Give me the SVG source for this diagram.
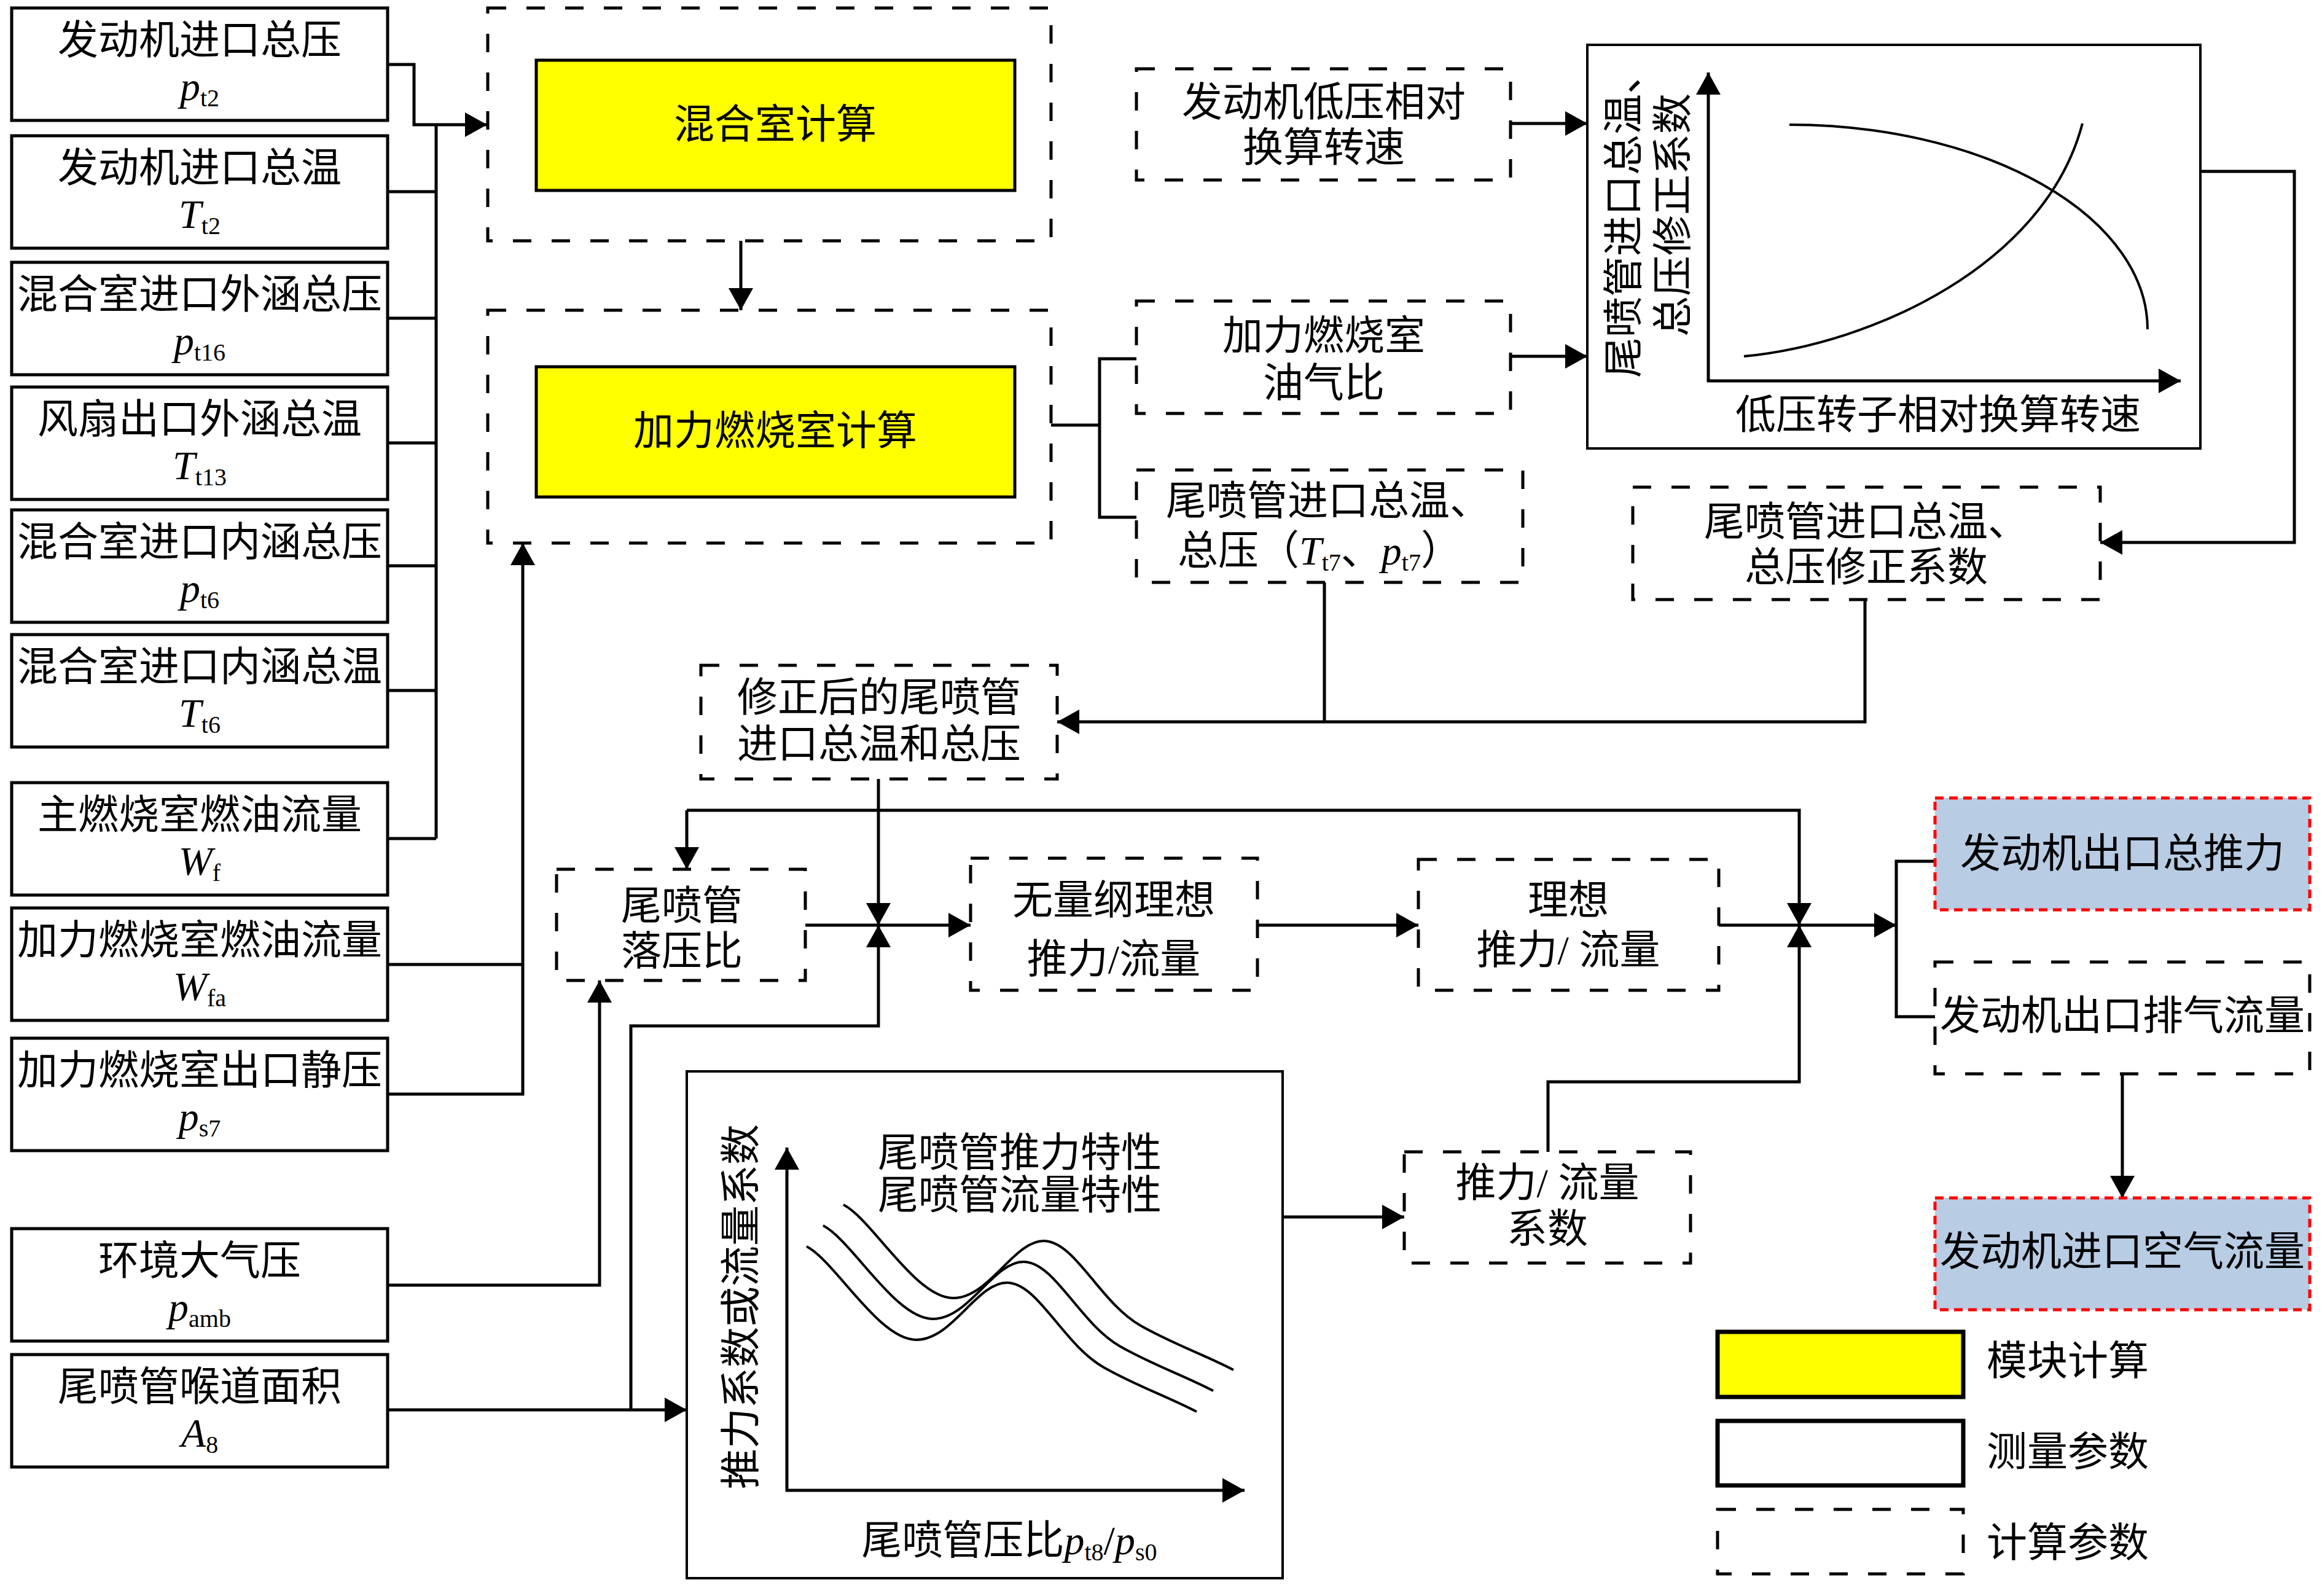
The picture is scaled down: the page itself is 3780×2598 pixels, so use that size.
<svg xmlns="http://www.w3.org/2000/svg" width="3780" height="2598" viewBox="0 0 3780 2598">
<style>
.t{font-family:"Liberation Serif","Noto Sans CJK SC",serif;font-size:66px;fill:#000}
.c{text-anchor:middle}
.i{font-style:italic}
.s{font-size:40px;font-style:normal}
.box{fill:#fff;stroke:#000;stroke-width:5}
.dash{fill:none;stroke:#000;stroke-width:5;stroke-dasharray:30 33}
.yel{fill:#FFFF00;stroke:#000;stroke-width:5}
.red{fill:#B8CCE4;stroke:#FF0000;stroke-width:5;stroke-dasharray:14 9}
.ln{fill:none;stroke:#000;stroke-width:5}
.cv{fill:none;stroke:#000;stroke-width:4}
.arr{marker-end:url(#ah)}
</style>
<defs>
<marker id="ah" markerUnits="userSpaceOnUse" viewBox="0 0 36 40" refX="36" refY="20" markerWidth="36" markerHeight="40" orient="auto">
<path d="M0,0 L36,20 L0,40 Z" fill="#000"/>
</marker>
<path id="wave" d="M1373,1961 C1420,1985 1490,2113 1552,2113 C1610,2113 1650,2020 1699,2020 C1750,2020 1790,2120 1857,2158 C1910,2188 1960,2205 2008,2230"/>
</defs>
<rect width="3780" height="2598" fill="#fff"/>

<g id="connectors">
<polyline class="ln arr" points="631,105 674,105 674,203 793,203"/>
<line class="ln" x1="710" y1="203" x2="710" y2="1365"/>
<line class="ln" x1="631" y1="312" x2="710" y2="312"/>
<line class="ln" x1="631" y1="518" x2="710" y2="518"/>
<line class="ln" x1="631" y1="721" x2="710" y2="721"/>
<line class="ln" x1="631" y1="921" x2="710" y2="921"/>
<line class="ln" x1="631" y1="1124" x2="710" y2="1124"/>
<line class="ln" x1="631" y1="1365" x2="710" y2="1365"/>
<line class="ln" x1="631" y1="1570" x2="851" y2="1570"/>
<polyline class="ln arr" points="631,1781 851,1781 851,884"/>
<line class="ln arr" x1="1206" y1="392" x2="1206" y2="505"/>
<line class="ln" x1="1711" y1="692" x2="1790" y2="692"/>
<polyline class="ln" points="1850,584 1790,584 1790,842 1850,842"/>
<line class="ln arr" x1="2459" y1="201" x2="2584" y2="201"/>
<line class="ln arr" x1="2459" y1="580" x2="2584" y2="580"/>
<polyline class="ln arr" points="3582,279 3735,279 3735,883 3419,883"/>
<polyline class="ln arr" points="3036,976 3036,1175 1721,1175"/>
<line class="ln" x1="2156" y1="948" x2="2156" y2="1175"/>
<line class="ln arr" x1="1430" y1="1268" x2="1430" y2="1506"/>
<line class="ln arr" x1="1311" y1="1506" x2="1580" y2="1506"/>
<line class="ln arr" x1="631" y1="2295" x2="1118" y2="2295"/>
<polyline class="ln arr" points="1027,2295 1027,1670 1430,1670 1430,1506"/>
<polyline class="ln arr" points="631,2092 976,2092 976,1596"/>
<polyline class="ln arr" points="1118,1319 1118,1415"/>
<polyline class="ln arr" points="1118,1319 2929,1319 2929,1506"/>
<line class="ln arr" x1="2047" y1="1506" x2="2309" y2="1506"/>
<line class="ln arr" x1="2798" y1="1506" x2="3087" y2="1506"/>
<polyline class="ln" points="3150,1402 3087,1402 3087,1655 3150,1655"/>
<polyline class="ln arr" points="2520,1875 2520,1761 2929,1761 2929,1506"/>
<line class="ln arr" x1="2088" y1="1981" x2="2286" y2="1981"/>
<line class="ln arr" x1="3455" y1="1748" x2="3455" y2="1950"/>
</g>

<g id="in-pt2"><rect class="box" x="19" y="13" width="612" height="183"/>
<text class="t c" x="325" y="88">发动机进口总压</text>
<text class="t c" x="325" y="163"><tspan class="i">p</tspan><tspan class="s" dy="10">t2</tspan></text></g>
<g id="in-Tt2"><rect class="box" x="19" y="221" width="612" height="183"/>
<text class="t c" x="325" y="296">发动机进口总温</text>
<text class="t c" x="325" y="371"><tspan class="i">T</tspan><tspan class="s" dy="10">t2</tspan></text></g>
<g id="in-pt16"><rect class="box" x="19" y="427" width="612" height="183"/>
<text class="t c" x="325" y="502">混合室进口外涵总压</text>
<text class="t c" x="325" y="577"><tspan class="i">p</tspan><tspan class="s" dy="10">t16</tspan></text></g>
<g id="in-Tt13"><rect class="box" x="19" y="630" width="612" height="183"/>
<text class="t c" x="325" y="705">风扇出口外涵总温</text>
<text class="t c" x="325" y="780"><tspan class="i">T</tspan><tspan class="s" dy="10">t13</tspan></text></g>
<g id="in-pt6"><rect class="box" x="19" y="830" width="612" height="183"/>
<text class="t c" x="325" y="905">混合室进口内涵总压</text>
<text class="t c" x="325" y="980"><tspan class="i">p</tspan><tspan class="s" dy="10">t6</tspan></text></g>
<g id="in-Tt6"><rect class="box" x="19" y="1033" width="612" height="183"/>
<text class="t c" x="325" y="1108">混合室进口内涵总温</text>
<text class="t c" x="325" y="1183"><tspan class="i">T</tspan><tspan class="s" dy="10">t6</tspan></text></g>
<g id="in-Wf"><rect class="box" x="19" y="1274" width="612" height="183"/>
<text class="t c" x="325" y="1349">主燃烧室燃油流量</text>
<text class="t c" x="325" y="1424"><tspan class="i">W</tspan><tspan class="s" dy="10">f</tspan></text></g>
<g id="in-Wfa"><rect class="box" x="19" y="1478" width="612" height="183"/>
<text class="t c" x="325" y="1553">加力燃烧室燃油流量</text>
<text class="t c" x="325" y="1628"><tspan class="i">W</tspan><tspan class="s" dy="10">fa</tspan></text></g>
<g id="in-ps7"><rect class="box" x="19" y="1690" width="612" height="183"/>
<text class="t c" x="325" y="1765">加力燃烧室出口静压</text>
<text class="t c" x="325" y="1840"><tspan class="i">p</tspan><tspan class="s" dy="10">s7</tspan></text></g>
<g id="in-pamb"><rect class="box" x="19" y="2000" width="612" height="183"/>
<text class="t c" x="325" y="2075">环境大气压</text>
<text class="t c" x="325" y="2150"><tspan class="i">p</tspan><tspan class="s" dy="10">amb</tspan></text></g>
<g id="in-A8"><rect class="box" x="19" y="2205" width="612" height="183"/>
<text class="t c" x="325" y="2280">尾喷管喉道面积</text>
<text class="t c" x="325" y="2355"><tspan class="i">A</tspan><tspan class="s" dy="10">8</tspan></text></g>

<g id="mix"><rect class="dash" x="794" y="13" width="917" height="379"/>
<rect class="yel" x="873" y="98" width="779" height="212"/>
<text class="t c" x="1262" y="225">混合室计算</text></g>
<g id="ab"><rect class="dash" x="794" y="505" width="917" height="379"/>
<rect class="yel" x="873" y="597" width="779" height="212"/>
<text class="t c" x="1262" y="724">加力燃烧室计算</text></g>

<g id="lp-speed"><rect class="dash" x="1850" y="112" width="609" height="181"/>
<text class="t c" x="2155" y="189">发动机低压相对</text>
<text class="t c" x="2155" y="263">换算转速</text></g>
<g id="far"><rect class="dash" x="1850" y="490" width="609" height="183"/>
<text class="t c" x="2155" y="569">加力燃烧室</text>
<text class="t c" x="2155" y="646">油气比</text></g>
<g id="t7p7"><rect class="dash" x="1850" y="765" width="629" height="183"/>
<text class="t c" x="2162" y="838">尾喷管进口总温、</text>
<text class="t c" x="2148" y="919">总压（<tspan class="i">T</tspan><tspan class="s" dy="10">t7</tspan><tspan dy="-10">、</tspan><tspan class="i">p</tspan><tspan class="s" dy="10">t7</tspan><tspan dy="-10">）</tspan></text></g>

<g id="chart1"><rect x="2584" y="73" width="998" height="657" fill="#fff" stroke="#000" stroke-width="4"/>
<line class="ln arr" x1="2781" y1="622" x2="2781" y2="118"/>
<line class="ln arr" x1="2779" y1="620" x2="3550" y2="620"/>
<path class="cv" d="M2913,203 A583,333 0 0 1 3496,536"/>
<path class="cv" d="M2839,580 C3050,560 3330,430 3390,201"/>
<text class="t" transform="translate(2666,615) rotate(-90)">尾喷管进口总温、</text>
<text class="t" transform="translate(2746,548) rotate(-90)">总压修正系数</text>
<text class="t c" x="3155" y="698">低压转子相对换算转速</text></g>

<g id="corr"><rect class="dash" x="2658" y="793" width="761" height="183"/>
<text class="t c" x="3038" y="872">尾喷管进口总温、</text>
<text class="t c" x="3038" y="946">总压修正系数</text></g>
<g id="corrected"><rect class="dash" x="1141" y="1083" width="580" height="185"/>
<text class="t c" x="1431" y="1158">修正后的尾喷管</text>
<text class="t c" x="1431" y="1234">进口总温和总压</text></g>
<g id="npr"><rect class="dash" x="906" y="1415" width="405" height="181"/>
<text class="t c" x="1110" y="1497">尾喷管</text>
<text class="t c" x="1110" y="1571">落压比</text></g>
<g id="dimless"><rect class="dash" x="1580" y="1397" width="467" height="215"/>
<text class="t c" x="1813" y="1488">无量纲理想</text>
<text class="t c" x="1813" y="1584">推力/流量</text></g>
<g id="ideal"><rect class="dash" x="2309" y="1399" width="489" height="213"/>
<text class="t c" x="2553" y="1488">理想</text>
<text class="t c" x="2553" y="1569">推力/ 流量</text></g>
<g id="coef"><rect class="dash" x="2286" y="1875" width="466" height="181"/>
<text class="t c" x="2519" y="1948">推力/ 流量</text>
<text class="t c" x="2519" y="2023">系数</text></g>

<g id="chart2"><rect x="1118" y="1744" width="970" height="825" fill="#fff" stroke="#000" stroke-width="4"/>
<line class="ln arr" x1="1281" y1="2428" x2="1281" y2="1868"/>
<line class="ln arr" x1="1279" y1="2426" x2="2026" y2="2426"/>
<use href="#wave" class="cv"/>
<use href="#wave" class="cv" transform="translate(-33,34)"/>
<use href="#wave" class="cv" transform="translate(-60,68)"/>
<text class="t" transform="translate(1229,2424) rotate(-90)">推力系数或流量系数</text>
<text class="t c" x="1660" y="1899">尾喷管推力特性</text>
<text class="t c" x="1660" y="1968">尾喷管流量特性</text>
<text class="t c" x="1643" y="2530">尾喷管压比<tspan class="i">p</tspan><tspan class="s" dy="10">t8</tspan><tspan dy="-10">/</tspan><tspan class="i">p</tspan><tspan class="s" dy="10">s0</tspan></text></g>

<g id="thrust"><rect class="red" x="3150" y="1299" width="610" height="182"/>
<text class="t c" x="3455" y="1412">发动机出口总推力</text></g>
<g id="exhaust"><rect class="dash" x="3150" y="1566" width="610" height="182"/>
<text class="t c" x="3455" y="1676">发动机出口排气流量</text></g>
<g id="airflow"><rect class="red" x="3150" y="1950" width="610" height="182"/>
<text class="t c" x="3455" y="2060">发动机进口空气流量</text></g>

<g id="legend">
<rect x="2796" y="2168" width="400" height="106" fill="#FFFF00" stroke="#000" stroke-width="7"/>
<text class="t" x="3234" y="2238">模块计算</text>
<rect x="2796" y="2313" width="400" height="105" fill="#fff" stroke="#000" stroke-width="7"/>
<text class="t" x="3234" y="2386">测量参数</text>
<rect class="dash" x="2796" y="2457" width="400" height="105"/>
<text class="t" x="3234" y="2534">计算参数</text>
</g>
</svg>
